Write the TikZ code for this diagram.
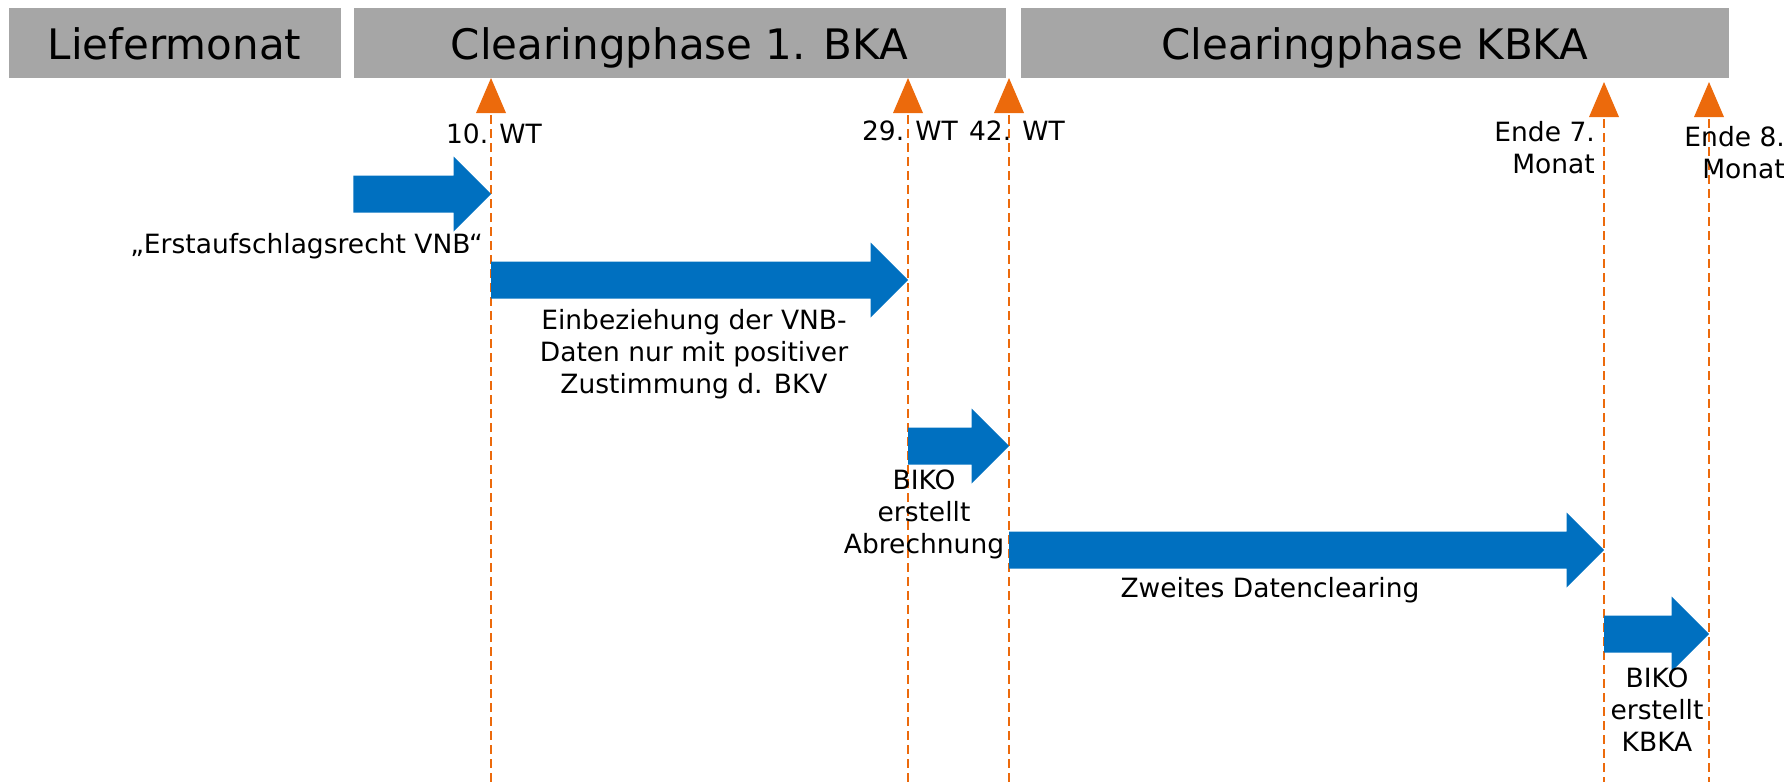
\documentclass[tikz,border=0pt]{standalone}
\usepackage{fontspec}
\setmainfont{DejaVu Sans}
\usepackage{tikz}
\usetikzlibrary{calc}

\definecolor{phasegray}{RGB}{166,166,166}
\definecolor{barblue}{RGB}{0,112,192}
\definecolor{tickorange}{RGB}{236,106,12}

\begin{document}
\begin{tikzpicture}[x=1pt,y=-1pt,
    phase/.style={fill=phasegray,minimum height=70pt,inner sep=0pt,
      text height=32pt,text depth=0pt,font=\fontsize{42}{50}\selectfont},
    lbl/.style={inner sep=0pt,font=\fontsize{26.5}{32}\selectfont},
    tick/.style={tickorange,line width=2pt,dash pattern=on 9pt off 5pt},
    bar/.style={fill=barblue}]
            \useasboundingbox (0,0) rectangle (1790,782);
            % phases
            \node[phase,minimum width=332pt] (liefer) at (174.5,43) {Liefermonat};
            \node[phase,minimum width=652pt] (bka1) at (679.5,43) {Clearingphase 1. BKA};
            \node[phase,minimum width=708pt] (kbka) at (1375,43) {Clearingphase KBKA};
            % markers
            \coordinate (t10) at (491,78);
            \coordinate (t29) at (908,78);
            \coordinate (t42) at (1009,78);
            \coordinate (t7) at (1604,82);
            \coordinate (t8) at (1709,82);
            \coordinate (bottom) at (0,782);
            \fill[tickorange] (t10) -- ++(-15,35) -- ++(30,0) -- cycle;
            \fill[tickorange] (t29) -- ++(-15,35) -- ++(30,0) -- cycle;
            \fill[tickorange] (t42) -- ++(-15,35) -- ++(30,0) -- cycle;
            \fill[tickorange] (t7) -- ++(-15,35) -- ++(30,0) -- cycle;
            \fill[tickorange] (t8) -- ++(-15,35) -- ++(30,0) -- cycle;
            \draw[tick] ($(t10)+(0,37)$) -- (t10 |- bottom);
            \draw[tick] ($(t29)+(0,37)$) -- (t29 |- bottom);
            \draw[tick] ($(t42)+(0,37)$) -- (t42 |- bottom);
            \draw[tick] ($(t7)+(0,37)$) -- (t7 |- bottom);
            \draw[tick] ($(t8)+(0,37)$) -- (t8 |- bottom);
            % bars
            \coordinate (r1) at (0,194);
            \coordinate (r2) at (0,280);
            \coordinate (r3) at (0,446);
            \coordinate (r4) at (0,550);
            \coordinate (r5) at (0,634);
            \fill[bar] ($(bka1.west |- r1)+(0,-18.5)$) -- ($(t10 |- r1)+(-37.5,-18.5)$) -- ++(0,-19) -- (t10 |- r1) -- ++(-37.5,37.5) -- ++(0,-19) -- ($(bka1.west |- r1)+(0,18.5)$) -- cycle;
            \fill[bar] ($(t10 |- r2)+(0,-18.5)$) -- ($(t29 |- r2)+(-37.5,-18.5)$) -- ++(0,-19) -- (t29 |- r2) -- ++(-37.5,37.5) -- ++(0,-19) -- ($(t10 |- r2)+(0,18.5)$) -- cycle;
            \fill[bar] ($(t29 |- r3)+(0,-18.5)$) -- ($(t42 |- r3)+(-37.5,-18.5)$) -- ++(0,-19) -- (t42 |- r3) -- ++(-37.5,37.5) -- ++(0,-19) -- ($(t29 |- r3)+(0,18.5)$) -- cycle;
            \fill[bar] ($(t42 |- r4)+(0,-18.5)$) -- ($(t7 |- r4)+(-37.5,-18.5)$) -- ++(0,-19) -- (t7 |- r4) -- ++(-37.5,37.5) -- ++(0,-19) -- ($(t42 |- r4)+(0,18.5)$) -- cycle;
            \fill[bar] ($(t7 |- r5)+(0,-18.5)$) -- ($(t8 |- r5)+(-37.5,-18.5)$) -- ++(0,-19) -- (t8 |- r5) -- ++(-37.5,37.5) -- ++(0,-19) -- ($(t7 |- r5)+(0,18.5)$) -- cycle;
            % labels
            \node[lbl,anchor=base] (wt10) at (494,143) {10. WT};
            \node[lbl,anchor=base] (wt29) at (910,140) {29. WT};
            \node[lbl,anchor=base] (wt42) at (1017,140) {42. WT};
            \node[lbl,align=right,anchor=east] (end7) at (1595,148) {Ende 7.\\Monat};
            \node[lbl,align=right,anchor=east] (end8) at (1785,153) {Ende 8.\\Monat};
            \node[lbl,anchor=base east] (erst) at (483,253) {„Erstaufschlagsrecht VNB“};
            \node[lbl,align=center] (einb) at (694,354) {Einbeziehung der VNB-\\Daten nur mit positiver\\Zustimmung d. BKV};
            \node[lbl,align=center] (biko1) at (924,514.5) {BIKO\\erstellt\\Abrechnung};
            \node[lbl,anchor=base] (zweit) at (1270,597) {Zweites Datenclearing};
            \node[lbl,align=center] (biko2) at (1657,710) {BIKO\\erstellt\\KBKA};
        \end{tikzpicture}
\end{document}
